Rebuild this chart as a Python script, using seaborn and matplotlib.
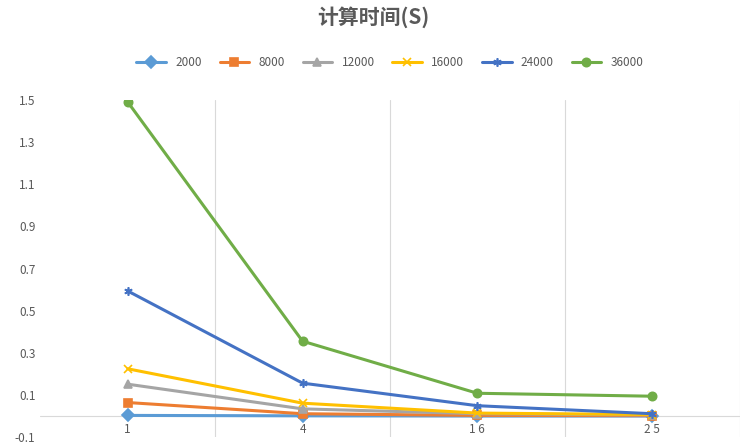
import matplotlib
matplotlib.use("Agg")
import matplotlib.pyplot as plt
import seaborn as sns
import pandas as pd

threads = ["1", "4", "16", "25"]
sizes = ["2000", "8000", "12000", "16000", "24000", "36000"]
t2000 = [0.004, 0.002, 0.001, 0.001]
t8000 = [0.065, 0.012, 0.004, 0.003]
t12000 = [0.152, 0.035, 0.012, 0.006]
t16000 = [0.225, 0.062, 0.015, 0.008]
t24000 = [0.594, 0.157, 0.05, 0.012]
t36000 = [1.49, 0.356, 0.109, 0.095]

series = [t2000, t8000, t12000, t16000, t24000, t36000]
colors = ["#5B9BD5", "#ED7D31", "#A5A5A5", "#FFC000", "#4472C4", "#70AD47"]
markers = ["D", "s", "^", "x", (6, 2, 0), "o"]

sns.set_style("white")
plt.rcParams["font.family"] = ["Noto Sans CJK SC", "DejaVu Sans"]

fig, ax = plt.subplots(figsize=(7.47, 4.44), dpi=100)
fig.subplots_adjust(left=0.054, right=0.99, top=0.775, bottom=0.015)
for name, vals, c, m in zip(sizes, series, colors, markers):
    df = pd.DataFrame({"x": range(len(threads)), "time": vals})
    sns.lineplot(data=df, x="x", y="time", color=c, marker=m, label=name,
                 linewidth=2.2, markersize=6, markeredgewidth=1.2,
                 markeredgecolor=c, ax=ax)

ax.set_xlim(-0.5, 3.5)
ax.set_ylim(-0.1, 1.5)
ax.set_yticks([-0.1, 0.1, 0.3, 0.5, 0.7, 0.9, 1.1, 1.3, 1.5])
ax.set_yticklabels(["-0.1", "0.1", "0.3", "0.5", "0.7", "0.9", "1.1", "1.3", "1.5"])
ax.set_xticks(range(4))
ax.set_xticklabels(["1", "4", "1 6", "2 5"])
ax.tick_params(axis="both", labelsize=8.5, colors="#595959", length=0)
for xv in [0.5, 1.5, 2.5, 3.5]:
    ax.axvline(xv, color="#D9D9D9", lw=0.8, zorder=0)
ax.axhline(0, color="#D9D9D9", lw=0.8, zorder=0)
for s in ax.spines.values():
    s.set_visible(False)
ax.xaxis.set_tick_params(pad=-10)
ax.set_xlabel("")
ax.set_ylabel("")

ax.legend(loc="lower center", bbox_to_anchor=(0.5, 1.06), ncol=6, frameon=False,
          fontsize=8.5, handlelength=2.5, columnspacing=1.5, labelcolor="#595959")
fig.suptitle("计算时间(S)", fontsize=15, fontweight="bold", color="#595959", y=0.985)
fig.savefig("out.png", dpi=100)
